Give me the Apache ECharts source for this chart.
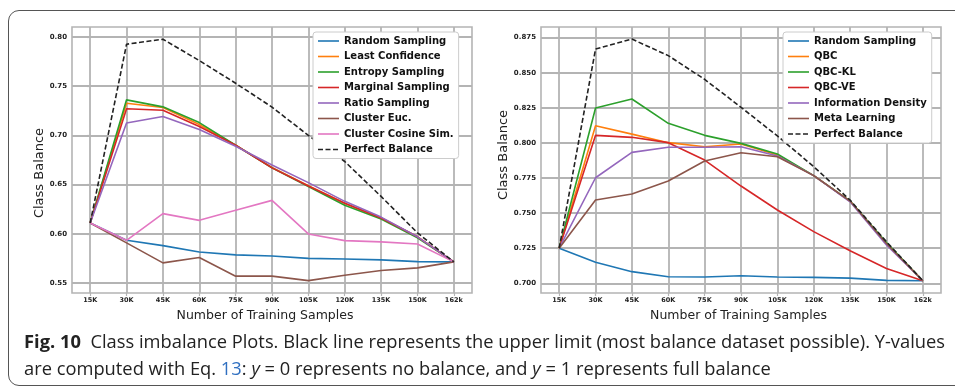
<!DOCTYPE html>
<html>
<head>
<meta charset="utf-8">
<script src="https://cdn.jsdelivr.net/npm/echarts@6/dist/echarts.min.js"></script>
<style>
  html, body { margin: 0; padding: 0; background: #fff; }
  #wrap { position: relative; width: 955px; height: 388px; overflow: hidden; background: #fff; }
  #chart { position: absolute; left: 0; top: 0; width: 955px; height: 388px; }
  #frame { position: absolute; left: 8px; top: 10px; width: 1000px; height: 376px;
           border: 1.3px solid #555; border-radius: 11px; box-sizing: border-box; pointer-events: none; }
  .cap { position: absolute; left: 24px; white-space: nowrap; font-family: "Open Sans", sans-serif;
         font-size: 18px; line-height: 18px; color: #222; transform-origin: 0 0; }
  .cap b { font-weight: 700; }
  .cap .ref { color: #2f6fc0; }
</style>
</head>
<body>
<div id="wrap">
  <div id="chart"></div>
  <div id="frame"></div>
  <div class="cap" id="cap1" style="top:332px"><b>Fig. 10</b>&nbsp; Class imbalance Plots. Black line represents the upper limit (most balance dataset possible). Y-values</div>
  <div class="cap" id="cap2" style="top:359px">are computed with Eq. <span class="ref">13</span>: <i>y</i> = 0 represents no balance, and <i>y</i> = 1 represents full balance</div>
</div>
<script>
// ---- data ----
const xLabels = ['15K','30K','45K','60K','75K','90K','105K','120K','135K','150K','162k'];

const leftTicks = [0.55, 0.60, 0.65, 0.70, 0.75, 0.80];
const rightTicks = [0.700, 0.725, 0.750, 0.775, 0.800, 0.825, 0.850, 0.875];

const leftNames = ['Random Sampling','Least Confidence','Entropy Sampling','Marginal Sampling','Ratio Sampling','Cluster Euc.','Cluster Cosine Sim.','Perfect Balance'];
const leftRandom     = [0.611,0.5934,0.588,0.5816,0.5786,0.5775,0.5751,0.5745,0.5735,0.5718,0.5715];
const leftLeastConf  = [0.611,0.7327,0.7283,0.711,0.690,0.6675,0.649,0.631,0.616,0.597,0.5715];
const leftEntropy    = [0.611,0.7361,0.729,0.713,0.690,0.667,0.648,0.629,0.615,0.596,0.5715];
const leftMarginal   = [0.611,0.727,0.7256,0.709,0.690,0.667,0.6485,0.631,0.616,0.597,0.5715];
const leftRatio      = [0.611,0.7125,0.7192,0.706,0.689,0.670,0.652,0.633,0.617,0.597,0.5715];
const leftClusterEuc = [0.611,0.5908,0.5705,0.5759,0.557,0.557,0.5525,0.558,0.5627,0.5654,0.5715];
const leftClusterCos = [0.611,0.5934,0.6205,0.6137,0.6239,0.634,0.5999,0.5931,0.5918,0.5897,0.5715];
const leftPerfect    = [0.611,0.7926,0.7977,0.776,0.753,0.7287,0.700,0.6735,0.638,0.601,0.5715];

const rightNames = ['Random Sampling','QBC','QBC-KL','QBC-VE','Information Density','Meta Learning','Perfect Balance'];
const rightRandom  = [0.725,0.715,0.7083,0.7047,0.7045,0.7054,0.7045,0.7042,0.7037,0.7021,0.7018];
const rightQBC     = [0.725,0.8123,0.8063,0.8002,0.7973,0.7992,0.7914,0.7767,0.7586,0.7284,0.7018];
const rightQBCKL   = [0.725,0.8249,0.8313,0.814,0.8054,0.7997,0.7921,0.7767,0.7586,0.729,0.7018];
const rightQBCVE   = [0.725,0.8054,0.804,0.8002,0.7878,0.7693,0.7522,0.7368,0.7232,0.7106,0.7018];
const rightInfoDen = [0.725,0.7752,0.7933,0.7969,0.7969,0.7973,0.7907,0.7767,0.7581,0.7273,0.7018];
const rightMeta    = [0.725,0.7593,0.7636,0.7729,0.7871,0.793,0.7902,0.7767,0.7586,0.7284,0.7018];
const rightPerfect = [0.725,0.8669,0.874,0.8622,0.8453,0.8254,0.805,0.7831,0.7593,0.7296,0.7018];

// ---- styles ----
const palette = ['#1f77b4','#ff7f0e','#2ca02c','#d62728','#9467bd','#8c564b','#e377c2'];
const gridCol = '#b4b4b4';
const tickIdx = xLabels.map((_, i) => i);
const solidIcon = 'path://M0,0h21v1.6h-21z';
const dashIcon = 'path://M0,0h5v1.6h-5z M7.5,0h5v1.6h-5z M15,0h5v1.6h-5z M21,0h0v1.6h0z';

const chart = echarts.init(document.getElementById('chart'), null, {renderer: 'canvas'});

function pts(arr) { return arr.map((v, i) => [i, v]); }

function xAxis(gridIndex, namePad) {
  return {
    type: 'value', gridIndex, min: -0.5, max: 10.5,
    name: 'Number of Training Samples', nameLocation: 'middle', nameGap: 14,
    nameTextStyle: {fontFamily: 'DejaVu Sans', fontSize: 12.5, color: '#222', padding: namePad},
    axisLine: {show: false},
    axisTick: {show: true, customValues: tickIdx, length: 3, lineStyle: {color: gridCol, width: 1.2}},
    axisLabel: {customValues: tickIdx, formatter: v => xLabels[Math.round(v)] || '',
                fontFamily: 'DejaVu Sans', fontWeight: 'bold', fontSize: 6.5, color: '#222', margin: 4},
    splitLine: {show: true, lineStyle: {color: gridCol, width: 1.8}}
  };
}
function yAxis(gridIndex, min, max, ticks, dec, namePad) {
  return {
    type: 'value', gridIndex, min, max,
    name: 'Class Balance', nameLocation: 'middle', nameGap: 24,
    nameTextStyle: {fontFamily: 'DejaVu Sans', fontSize: 13, color: '#222', padding: namePad},
    axisLine: {show: false},
    axisTick: {show: true, customValues: ticks, length: 3, lineStyle: {color: gridCol, width: 1.2}},
    axisLabel: {customValues: ticks, formatter: v => v.toFixed(dec),
                fontFamily: 'DejaVu Sans', fontWeight: 'bold', fontSize: 7, color: '#222', margin: 5},
    splitLine: {show: true, lineStyle: {color: gridCol, width: 1.8}}
  };
}
function series(name, arr, idx, color, dashed) {
  return {
    type: 'line', name, xAxisIndex: idx, yAxisIndex: idx, data: pts(arr),
    symbol: 'none', showSymbol: false, animation: false, silent: true,
    lineStyle: {color, width: 1.6, type: dashed ? [5, 2.5] : 'solid'},
    itemStyle: {color}
  };
}
function legend(names, left) {
  return {
    data: names.map(n => ({name: n, icon: n === 'Perfect Balance' ? dashIcon : solidIcon})),
    orient: 'vertical', left, top: 32,
    itemWidth: 21, itemHeight: 1.6, itemGap: 5.5,
    padding: [4, 5, 4, 5],
    backgroundColor: '#fff', borderColor: '#ccc', borderWidth: 1, borderRadius: 3,
    textStyle: {fontFamily: 'DejaVu Sans', fontWeight: 'bold', fontSize: 10, color: '#111', lineHeight: 10},
    selectedMode: false
  };
}

const leftSeriesData = [leftRandom, leftLeastConf, leftEntropy, leftMarginal, leftRatio, leftClusterEuc, leftClusterCos];
const rightSeriesData = [rightRandom, rightQBC, rightQBCKL, rightQBCVE, rightInfoDen, rightMeta];

const seriesList = [];
leftSeriesData.forEach((arr, i) => seriesList.push(series(leftNames[i], arr, 0, palette[i], false)));
seriesList.push(series(leftNames[7], leftPerfect, 0, '#222', true));
rightSeriesData.forEach((arr, i) => seriesList.push(series(rightNames[i], arr, 1, palette[i], false)));
seriesList.push(series(rightNames[6], rightPerfect, 1, '#222', true));

chart.setOption({
  animation: false,
  grid: [
    {left: 72, top: 27, width: 400, height: 266, show: true, borderColor: gridCol, borderWidth: 1.6, backgroundColor: 'transparent'},
    {left: 541, top: 27, width: 400, height: 266, show: true, borderColor: gridCol, borderWidth: 1.6, backgroundColor: 'transparent'}
  ],
  xAxis: [xAxis(0, [0, 14, 0, 0]), xAxis(1, [0, 5, 0, 0])],
  yAxis: [yAxis(0, 0.5399, 0.8101, leftTicks, 2, [0, 26, 0, 0]), yAxis(1, 0.6931, 0.8826, rightTicks, 3, [0, 0, 0, 10])],
  legend: [legend(leftNames, 313), legend(rightNames, 783)],
  series: seriesList
});

// fit caption lines to the reference width
(function () {
  const c1 = document.getElementById('cap1');
  const c2 = document.getElementById('cap2');
  const w1 = c1.getBoundingClientRect().width;
  const s = 921 / w1;
  c1.style.transform = 'scaleX(' + s + ')';
  c2.style.transform = 'scaleX(' + s + ')';
})();
</script>
</body>
</html>
